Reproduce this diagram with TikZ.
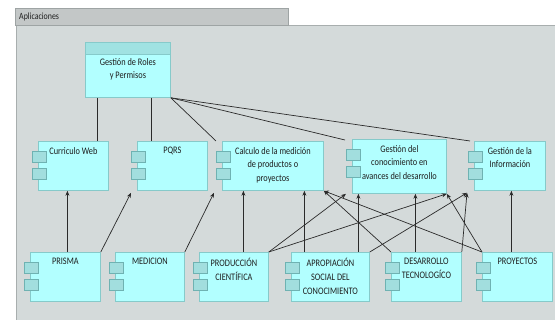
\documentclass[tikz,border=0pt]{standalone}
\usepackage{fontspec}
\setmainfont{Carlito}[FakeStretch=0.83]
\usetikzlibrary{arrows.meta,calc}
\definecolor{panel}{HTML}{D4DADA}
\definecolor{panelb}{HTML}{A8AEAE}
\definecolor{tabc}{HTML}{C3C7C7}
\definecolor{tabb}{HTML}{9EA4A4}
\definecolor{nodefill}{HTML}{B2FFFF}
\definecolor{nodeb}{HTML}{86CACA}
\definecolor{portfill}{HTML}{A2DEDE}
\definecolor{portb}{HTML}{6FB2B2}
\definecolor{headfill}{HTML}{A0E2E2}
\definecolor{txt}{HTML}{1E1E1E}
\definecolor{wire}{HTML}{2A2A2A}
\newcommand\mycomp[6]{%
  \node[comp, minimum width=#4pt, minimum height=#5pt] (#1) at (#2,#3) {};
  \node[port] (#1p1) at (#2-6,#3+10) {};
  \node[port] (#1p2) at (#2-6,#3+27) {};
  \node[lbl] (#1t) at ([yshift=-6pt]#1.north) {#6};
}
\begin{document}
\begin{tikzpicture}[x=1pt,y=-1pt,
  comp/.style={draw=nodeb, fill=nodefill, line width=0.8pt, inner sep=0pt, anchor=north west},
  port/.style={draw=portb, fill=portfill, line width=0.6pt, minimum width=14pt, minimum height=11pt, inner sep=0pt, anchor=north west},
  lbl/.style={font=\fontsize{10}{13.8}\selectfont, text=txt, align=center, anchor=north, inner sep=0pt},
  link/.style={draw=wire, line width=0.7pt},
  arr/.style={link, -{Stealth[length=5pt,width=4pt]}}]
\useasboundingbox (0,0) rectangle (555,320);
\fill[white] (0,0) rectangle (555,320);
\draw[fill=panel, draw=panelb, line width=0.8pt] (16,25) rectangle (562,330);
\draw[fill=tabc, draw=tabb, line width=0.8pt] (15,8) rectangle (288,25);
\node[font=\fontsize{9.5}{11}\selectfont, text=txt, anchor=west, inner sep=0pt] (title) at (19,16.5) {Aplicaciones};

% Roles node
\node[comp, minimum width=85pt, minimum height=55pt] (roles) at (85,42) {};
\node[comp, fill=headfill, minimum width=85pt, minimum height=12pt] (roleshead) at (85,42) {};
\node[lbl] (rolest) at ([yshift=-16pt]roles.north) {Gestión de Roles\\y Permisos};

\mycomp{curr}{38}{141}{70}{49}{Curriculo Web}
\mycomp{pqrs}{137}{141}{70}{49}{PQRS}
\mycomp{calc}{222}{141}{101}{49}{Calculo de la medición\\de productos o\\proyectos}
\mycomp{gc}{352}{139}{94}{54}{Gestión del\\conocimiento en\\avances del desarrollo}
\mycomp{gi}{474}{141}{71}{49}{Gestión de la\\Información}
\mycomp{prisma}{30}{252}{70}{49}{PRISMA}
\mycomp{medi}{115}{252}{69}{49}{MEDICION}
\mycomp{prod}{199}{252}{69}{49}{PRODUCCIÓN\\CIENTÍFICA}
\mycomp{apro}{291}{252}{78}{49}{APROPIACIÓN\\SOCIAL DEL\\CONOCIMIENTO}
\mycomp{desa}{391}{252}{70}{49}{DESARROLLO\\TECNOLOGÍCO}
\mycomp{proy}{482}{252}{70}{49}{PROYECTOS}

% Roles links
\draw[link] ([xshift=-30.5pt]roles.south) -- ([xshift=-30.5pt]roles.south |- curr.north);
\draw[link] ([xshift=23.5pt]roles.south) -- ([xshift=23.5pt]roles.south |- pqrs.north);
\draw[link] (roles.south east) -- ([xshift=-6pt]calc.north west);
\draw[link] (roles.south east) -- ([xshift=-7pt,yshift=-1pt]gc.north west);
\draw[link] (roles.south east) -- ([xshift=-4pt]gi.north west);

% bottom-row links
\draw[arr] ([xshift=2pt]prisma.north) -- ([xshift=2pt]prisma.north |- curr.south);
\draw[arr] (prisma.north east) -- ([xshift=-6pt,yshift=-2pt]pqrs.south west);
\draw[arr] (medi.north east) -- ([xshift=-8pt,yshift=-2pt]calc.south west);
\draw[arr] ([xshift=9.5pt]prod.north) -- ([xshift=9.5pt]prod.north |- calc.south);
\draw[arr] (prod.north east) -- ([xshift=-6pt]gc.south west);
\draw[arr] (prod.north east) -- (gc.south east);
\draw[arr] ([xshift=-26pt]apro.north) -- ([xshift=-26pt]apro.north |- calc.south);
\draw[arr] ([xshift=28pt]apro.north) -- ([xshift=28pt]apro.north |- gc.south);
\draw[arr] (apro.north east) -- ([xshift=-7pt,yshift=-2pt]gi.south west);
\draw[arr] (desa.north west) -- (calc.south east);
\draw[arr] ([xshift=-11pt]desa.north) -- ([xshift=-11pt]desa.north |- gc.south);
\draw[arr] (desa.north east) -- ([xshift=-7pt,yshift=-2pt]gi.south west);
\draw[arr] (proy.north west) -- (calc.south east);
\draw[arr] (proy.north west) -- (gc.south east);
\draw[arr] ([xshift=-6pt]proy.north) -- ([xshift=-6pt]proy.north |- gi.south);
\end{tikzpicture}
\end{document}
